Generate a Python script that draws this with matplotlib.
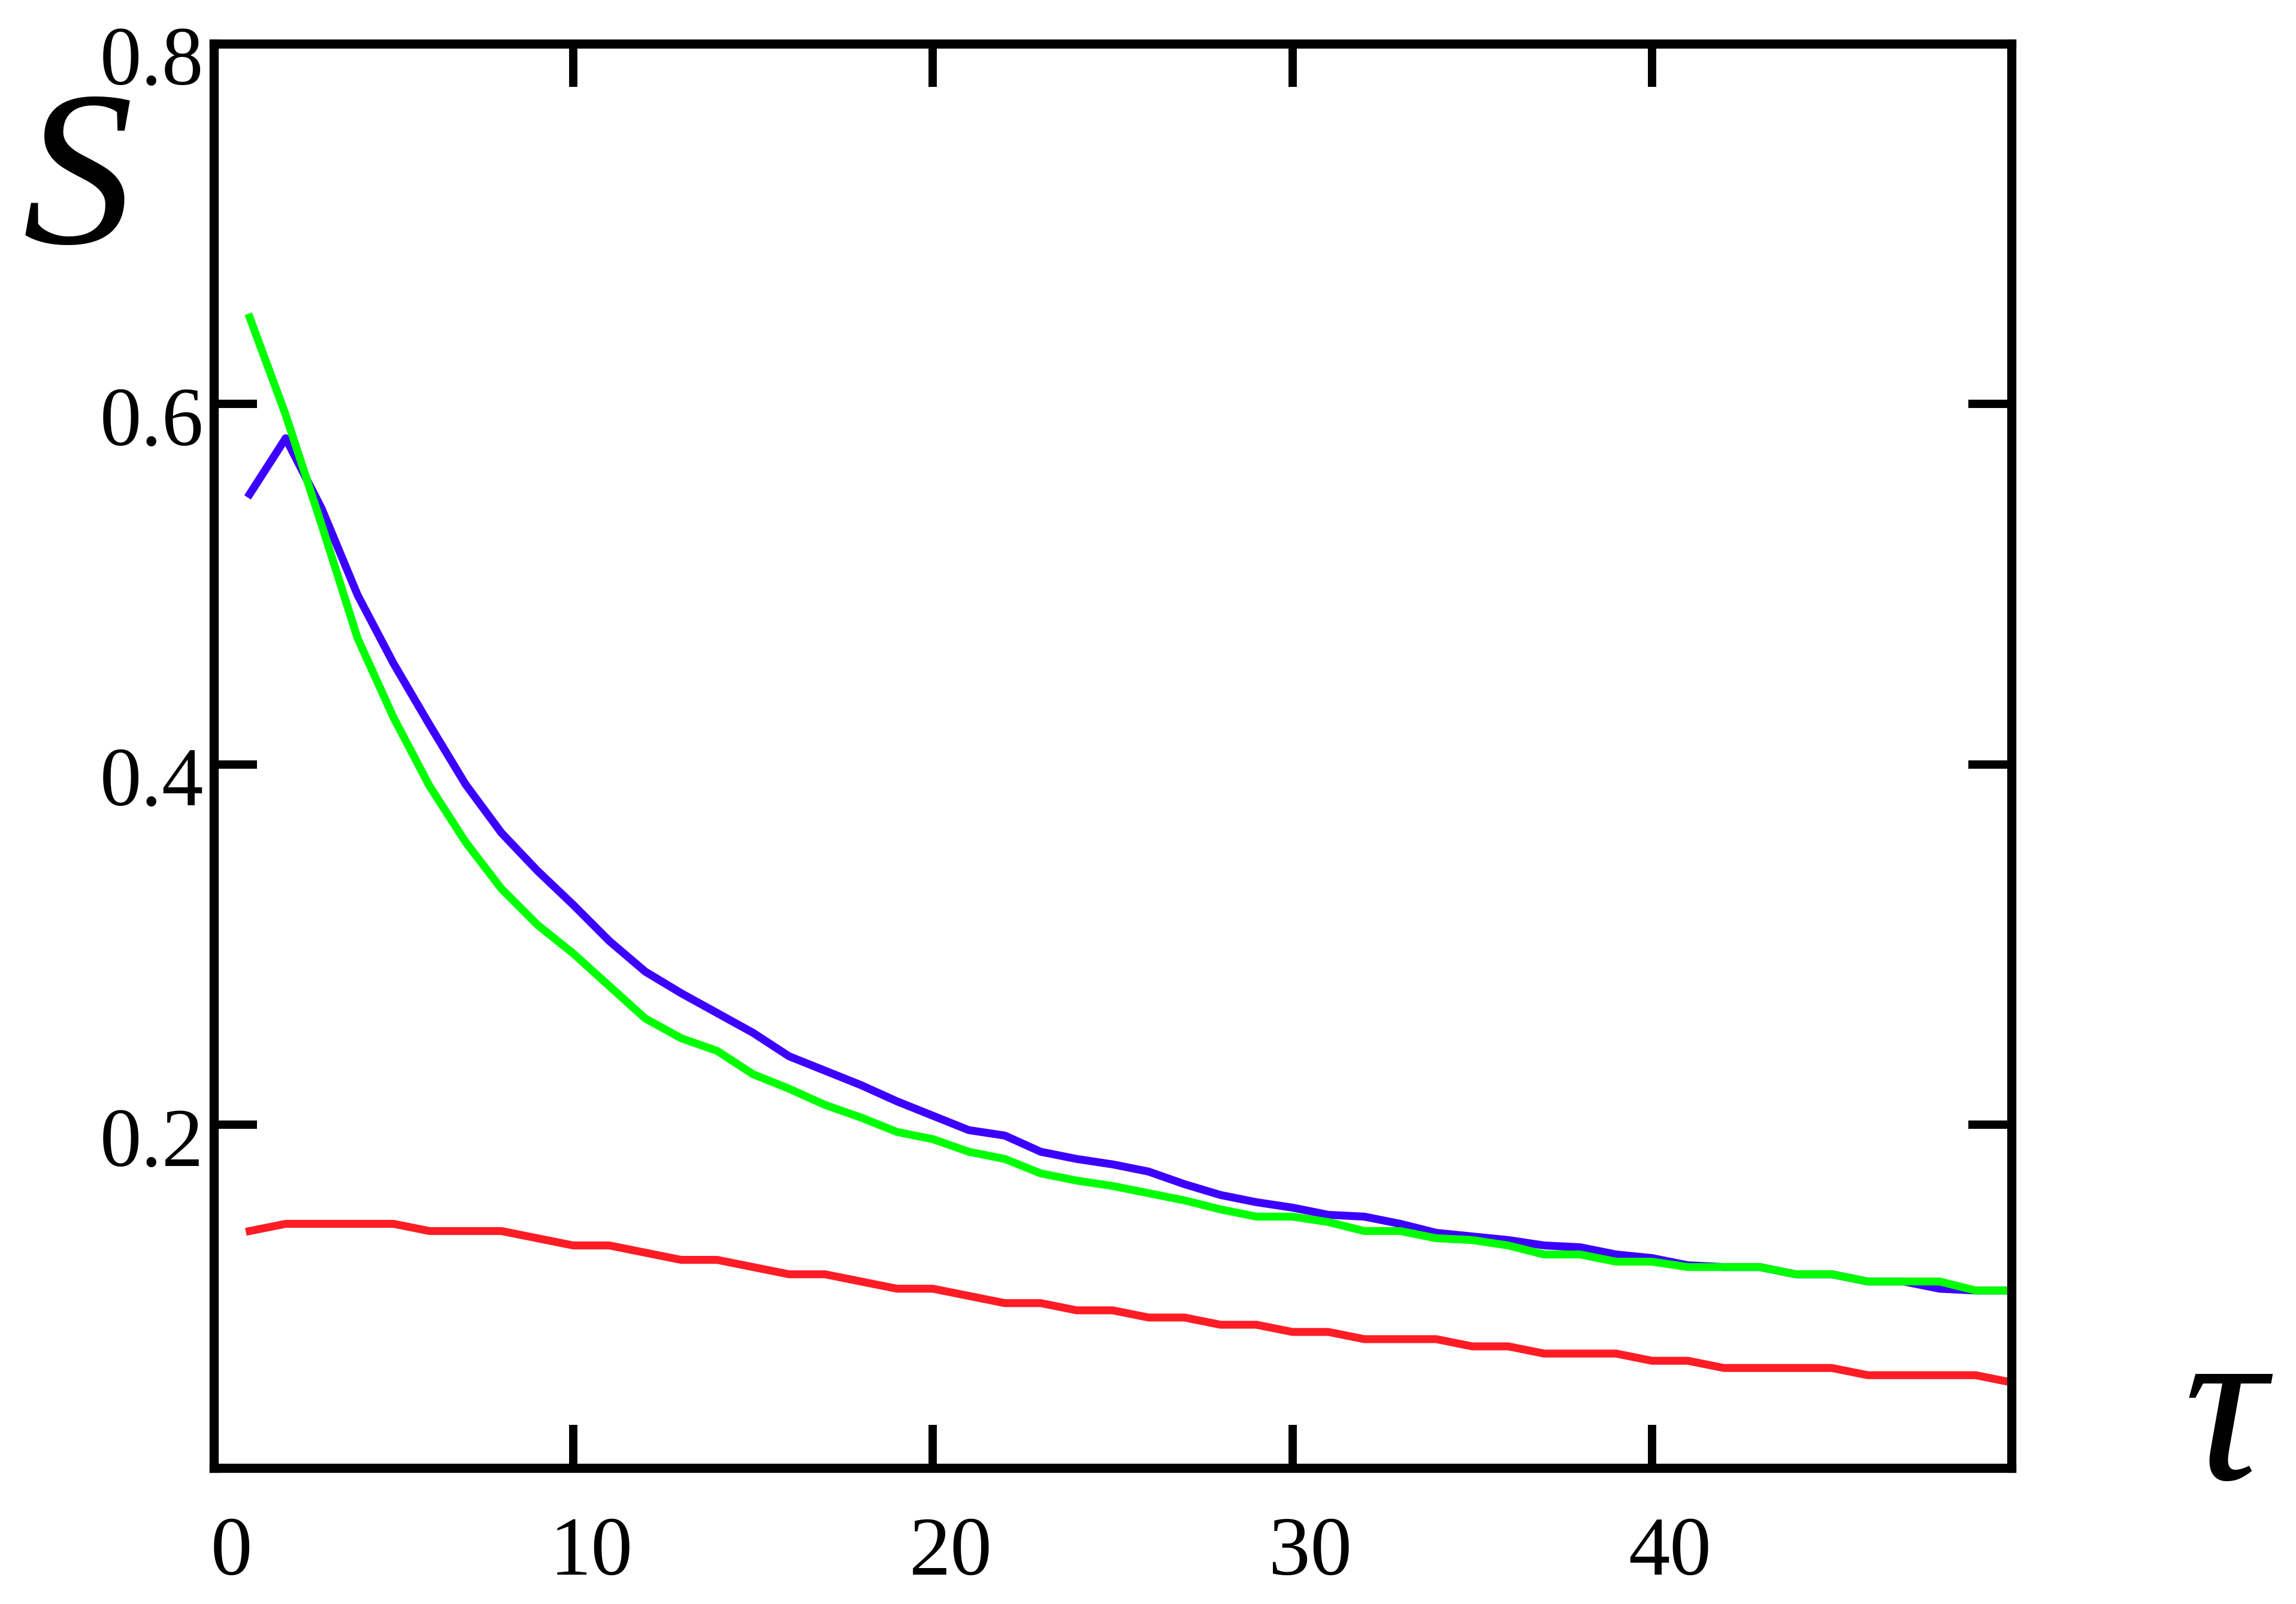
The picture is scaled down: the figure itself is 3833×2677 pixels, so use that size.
import matplotlib
matplotlib.use("Agg")
import matplotlib.pyplot as plt
import matplotlib.transforms as mtransforms

# === Daten ===
tau = list(range(1, 51))

s_blue = [0.550, 0.581, 0.542, 0.494, 0.456, 0.422, 0.389, 0.362, 0.341, 0.322,
          0.302, 0.285, 0.273, 0.262, 0.251, 0.238, 0.230, 0.222, 0.213, 0.205,
          0.197, 0.194, 0.185, 0.181, 0.178, 0.174, 0.167, 0.161, 0.157, 0.154,
          0.150, 0.149, 0.145, 0.140, 0.138, 0.136, 0.133, 0.132, 0.128, 0.126,
          0.122, 0.121, 0.121, 0.117, 0.117, 0.113, 0.113, 0.109, 0.108, 0.108]

s_green = [0.648, 0.594, 0.533, 0.470, 0.426, 0.388, 0.357, 0.331, 0.311, 0.295,
           0.277, 0.259, 0.248, 0.241, 0.228, 0.220, 0.211, 0.204, 0.196, 0.192,
           0.185, 0.181, 0.173, 0.169, 0.166, 0.162, 0.158, 0.153, 0.149, 0.149,
           0.146, 0.141, 0.141, 0.137, 0.136, 0.133, 0.128, 0.128, 0.124, 0.124,
           0.121, 0.121, 0.121, 0.117, 0.117, 0.113, 0.113, 0.113, 0.108, 0.108]

s_red = [0.141, 0.145, 0.145, 0.145, 0.145, 0.141, 0.141, 0.141, 0.137, 0.133,
         0.133, 0.129, 0.125, 0.125, 0.121, 0.117, 0.117, 0.113, 0.109, 0.109,
         0.105, 0.101, 0.101, 0.097, 0.097, 0.093, 0.093, 0.089, 0.089, 0.085,
         0.085, 0.081, 0.081, 0.081, 0.077, 0.077, 0.073, 0.073, 0.073, 0.069,
         0.069, 0.065, 0.065, 0.065, 0.065, 0.061, 0.061, 0.061, 0.061, 0.057]

x_ticks = [0, 10, 20, 30, 40]
y_ticks = [0.2, 0.4, 0.6, 0.8]

# === Grafik ===
fig = plt.figure(figsize=(38.33, 26.77), dpi=100)
ax = fig.add_axes([0.0931, 0.0848, 0.7830, 0.8880])

ax.plot(tau, s_red, color="#ff1c24", lw=9.5, solid_joinstyle="round")
ax.plot(tau, s_blue, color="#3c00ff", lw=9.5, solid_joinstyle="round")
ax.plot(tau, s_green, color="#00ff00", lw=9.5, solid_joinstyle="round")

ax.set_xlim(0, 50)
ax.set_ylim(0.0095, 0.8)

ax.set_xticks(x_ticks)
ax.set_yticks(y_ticks)
ax.set_xticklabels([str(t) for t in x_ticks])
ax.set_yticklabels([f"{t:.1f}" for t in y_ticks])

for side in ["left", "right", "top", "bottom"]:
    ax.spines[side].set_linewidth(11)

ax.tick_params(axis="both", which="major", direction="in", length=52, width=10,
               top=True, right=True, labelsize=100, colors="black")
ax.tick_params(axis="x", pad=58)
ax.tick_params(axis="y", pad=12)

for lab in ax.get_xticklabels() + ax.get_yticklabels():
    lab.set_fontfamily("Liberation Serif")

# Beschriftungen leicht versetzt (wie im Original)
dx = mtransforms.ScaledTranslation(30 / 100, 0, fig.dpi_scale_trans)
dy = mtransforms.ScaledTranslation(0, -20 / 100, fig.dpi_scale_trans)
for lab in ax.get_xticklabels():
    lab.set_transform(lab.get_transform() + dx)
for lab in ax.get_yticklabels():
    lab.set_transform(lab.get_transform() + dy)

fig.text(0.034, 0.8487, "S", fontsize=266, fontfamily="Liberation Serif",
         fontstyle="italic", ha="center", va="baseline")
fig.text(0.969, 0.0781, "τ", fontsize=275, fontfamily="Liberation Serif",
         fontstyle="italic", ha="center", va="baseline")

fig.savefig("out.png", dpi=100, facecolor="white")
